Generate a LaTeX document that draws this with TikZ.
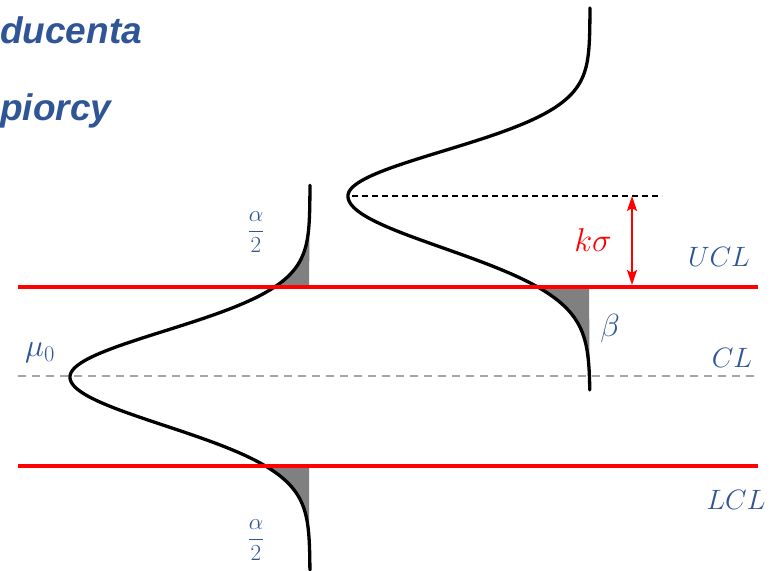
\documentclass[tikz,border=0pt]{standalone}
\usepackage{fix-cm}
\usepackage{fontspec}
\newfontfamily\headfont{Liberation Sans}
\usetikzlibrary{arrows.meta}
\definecolor{txtblue}{RGB}{47,85,151}
\definecolor{tailgrey}{RGB}{128,128,128}
\definecolor{clgrey}{RGB}{166,166,166}
\begin{document}
\begin{tikzpicture}[x=1pt,y=-1pt,
  head/.style={anchor=base west,inner sep=0pt,text=txtblue,font=\headfont\bfseries\itshape\fontsize{37}{40}\selectfont},
  lbl/.style={inner sep=0pt,text=txtblue,font=\fontsize{28}{30}\selectfont},
  frac/.style={inner sep=0pt,text=txtblue,font=\fontsize{23}{25}\selectfont},
  curve/.style={line width=3.3pt,black,line cap=round,line join=round},
  limit/.style={line width=3.6pt,red},
  tail/.style={fill=tailgrey},
  cline/.style={line width=1.8pt,clgrey,dash pattern=on 8pt off 6pt},
  shiftline/.style={line width=1.5pt,black,dash pattern=on 6pt off 4pt},
  ksarrow/.style={line width=2.2pt,red,{Stealth[length=15pt,width=10pt,inset=3pt]}-{Stealth[length=15pt,width=10pt,inset=3pt]}}]
\useasboundingbox (0,0) rectangle (776,570);

% heading fragments
\node[head] (t1) at (0,43) {ducenta};
\node[head] (t2) at (0,120) {piorcy};

% grey tails
\fill[tail] plot[domain=-4.17:-1.957,samples=80,smooth] ({310-240*exp(-0.5*\x*\x)},{377+46*\x}) -- (309,287) -- cycle;
\fill[tail] plot[domain=1.835:3.98,samples=80,smooth] ({310-240*exp(-0.5*\x*\x)},{377+48.5*\x}) -- (309,570) -- (309,466) -- cycle;
\fill[tail] plot[domain=1.75:3.73,samples=80,smooth] ({590-242*exp(-0.5*\x*\x)},{196+52*\x}) -- (589,287) -- cycle;

% centre line and shifted mean
\coordinate (clL) at (18,376);
\coordinate (clR) at (756,376);
\draw[cline] (clL) -- (clR);
\coordinate (shL) at (352,196);
\coordinate (shR) at (662,196);
\draw[shiftline] (shL) -- (shR);

% curves
\draw[curve] plot[domain=-4.17:0,samples=120,smooth] ({310-240*exp(-0.5*\x*\x)},{377+46*\x})
  -- plot[domain=0:3.98,samples=120,smooth] ({310-240*exp(-0.5*\x*\x)},{377+48.5*\x});
\draw[curve] plot[domain=-4.18:0,samples=120,smooth] ({590-242*exp(-0.5*\x*\x)},{196+45*\x})
  -- plot[domain=0:3.73,samples=120,smooth] ({590-242*exp(-0.5*\x*\x)},{196+52*\x});

% control limits
\coordinate (uclL) at (18,287);
\coordinate (uclR) at (758,287);
\coordinate (lclL) at (18,466);
\coordinate (lclR) at (758,466);
\draw[limit] (uclL) -- (uclR);
\draw[limit] (lclL) -- (lclR);

% k sigma arrow
\coordinate (kTop) at (632,196);
\coordinate (kBot) at (632,285);
\draw[ksarrow] (kTop) -- (kBot);

% labels
\node[lbl,text=red,font=\fontsize{33}{36}\selectfont] (ks) at (593,240) {$k\sigma$};
\node[lbl] (ucl) at (719,257) {$UCL$};
\node[lbl] (cl) at (732,358) {$CL$};
\node[lbl] (lcl) at (736,500) {$LCL$};
\node[lbl,font=\fontsize{32}{34}\selectfont] (beta) at (610,328) {$\beta$};
\node[lbl,font=\fontsize{32}{34}\selectfont] (mu) at (40,353) {$\mu_0$};
\node[frac] (a1) at (256,232) {$\displaystyle\frac{\alpha}{2}$};
\node[frac] (a2) at (256,540) {$\displaystyle\frac{\alpha}{2}$};
\end{tikzpicture}
\end{document}
